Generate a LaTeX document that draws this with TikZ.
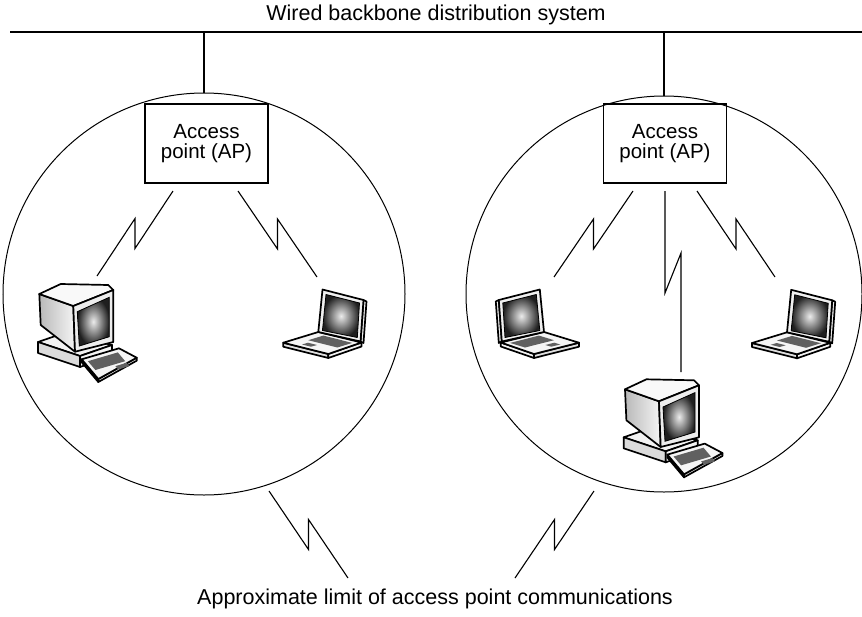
\documentclass[tikz,border=0pt]{standalone}
\usepackage{fontspec}
\setmainfont{Liberation Sans}
\usetikzlibrary{calc}
\begin{document}
\begin{tikzpicture}[x=1pt,y=-1pt,
  outline/.style={draw=black,line width=1.7pt,line join=round},
  apbox/.style={draw,line width=1.1pt,minimum width=123pt,minimum height=79pt,
    inner sep=0pt,align=center,font=\fontsize{20.5}{20}\selectfont},
  cell/.style={circle,draw,line width=1pt,inner sep=0pt},
  wire/.style={line width=1.1pt},
  backbone/.style={line width=2.4pt},
  radiolink/.style={line width=1.1pt,line join=miter,
    to path={-- ($(\tikztostart)!0.5!(\tikztotarget)+(0,15)$)
             -- ($(\tikztostart)!0.5!(\tikztotarget)+(0,-15)$)
             -- (\tikztotarget)}},
  caption/.style={font=\fontsize{21.5}{24}\selectfont,anchor=base,inner sep=0pt},
  desktop/.pic={
    % system unit
    \path[outline,fill=gray!10] (18,72) -- (44,63) -- (92,75) -- (60,86) -- cycle;
    \path[outline,fill=gray!28] (18,72) -- (60,86) -- (60,97) -- (18,83) -- cycle;
    \path[outline,fill=gray!8] (60,86) -- (92,75) -- (92,86) -- (60,97) -- cycle;
    \fill[gray!70] (64,91) -- (72,88.3) -- (72,90.3) -- (64,93) -- cycle;
    % monitor housing
    \path[outline,left color=gray!55,right color=gray!8]
      (19.3,24) -- (53.3,36) -- (55,81.7) -- (20.7,55) -- cycle;
    \path[outline,fill=gray!5]
      (19.3,24) -- (40.7,14) -- (88.3,15) -- (93.3,20) -- (53.3,36) -- cycle;
    \path[outline,fill=gray!14]
      (53.3,36) -- (93.3,20) -- (93.3,72) -- (55,81.7) -- cycle;
    \path[draw=black,line width=0.8pt,inner color=gray!15,outer color=black!88]
      (57.3,41.7) -- (89.3,27.3) -- (89.3,66.7) -- (59.3,76) -- cycle;
    % keyboard
    \path[outline,fill=gray!25] (61.7,89.3) -- (78.3,109) -- (78.3,112) -- (61.7,92.3) -- cycle;
    \path[outline,fill=gray!10] (78.3,109) -- (116.7,87.7) -- (116.7,90.7) -- (78.3,112) -- cycle;
    \path[outline,fill=gray!8] (61.7,89.3) -- (99,78.3) -- (116.7,87.7) -- (78.3,109) -- cycle;
    \fill[gray!75!black] (67.9,91.2) -- (97.8,82.4) -- (105.2,91.2) -- (75.4,100) -- cycle;
    \fill[gray!75!black] (95.4,96.1) -- (106.6,92.8) -- (109.4,96.1) -- (98.2,99.4) -- cycle;
  },
  laptop/.pic={
    % base
    \path[outline,fill=gray!25] (13.3,72.7) -- (58.3,84) -- (58.3,88) -- (13.3,76.7) -- cycle;
    \path[outline,fill=gray!10] (58.3,84) -- (91.5,72.5) -- (91.5,76.5) -- (58.3,88) -- cycle;
    \path[outline,fill=gray!8] (13.3,72.7) -- (48.3,62) -- (91.5,72.5) -- (58.3,84) -- cycle;
    \fill[gray!75!black] (38.3,70.2) -- (67.3,77.5) -- (82.3,72.9) -- (53.3,65.6) -- cycle;
    \fill[gray!75!black] (32,74.5) -- (41,76.7) -- (47,75) -- (38,72.7) -- cycle;
    % lid
    \path[outline,fill=gray!15] (93.5,30) -- (96.5,31.5) -- (93.5,73) -- (90.5,71.5) -- cycle;
    \path[outline,fill=gray!12] (48.3,62) -- (52.5,19.5) -- (93.5,30) -- (90.5,71.5) -- cycle;
    \path[draw=black,line width=0.8pt,inner color=gray!15,outer color=black!88]
      (56,24.5) -- (89.5,33) -- (87.3,67.5) -- (52.5,60.5) -- cycle;
  }
]
\useasboundingbox (0,0) rectangle (862,616);

% wired backbone
\coordinate (bbL) at (10,32);
\coordinate (bbR) at (862,32);
\draw[backbone] (bbL) -- (bbR);
\node[caption] (title) at (436,20.7) {Wired backbone distribution system};

% coverage cells
\node[cell,minimum size=402pt] (cellL) at (204,294) {};
\node[cell,minimum size=396pt] (cellR) at (664,294) {};

% access points
\node[apbox] (apL) at (206.5,143.5) {Access\\point (AP)};
\node[apbox] (apR) at (665,143.5) {Access\\point (AP)};

\draw[wire] (cellL.north |- bbL) -- (cellL.north);
\draw[wire] (cellR.north |- bbR) -- (cellR.north);

% stations
\pic (pcL) at (20,270) {desktop};
\pic (lapL) at (270,270) {laptop};
\pic[xscale=-1] (lapR1) at (592.3,270) {laptop};
\pic (lapR2) at (738.7,270.3) {laptop};
\pic (pcR) at (605.7,365.3) {desktop};

% radio links
\coordinate (l1a) at (173,191); \coordinate (l1b) at (97,276);
\coordinate (l2a) at (238,191); \coordinate (l2b) at (317,277);
\coordinate (r1a) at (633,191); \coordinate (r1b) at (554,277);
\coordinate (r3a) at (697,191); \coordinate (r3b) at (775,277);
\coordinate (r2a) at (665,191); \coordinate (r2b) at (681,372);
\draw[radiolink] (l1a) to (l1b);
\draw[radiolink] (l2a) to (l2b);
\draw[radiolink] (r1a) to (r1b);
\draw[radiolink] (r3a) to (r3b);
\draw[wire,line join=miter] (r2a) -- ++(0,102) -- ++(16,-40) -- (r2b);

% limit of communications
\coordinate (g1a) at (269,491); \coordinate (g1b) at (348,578);
\coordinate (g2a) at (594,491); \coordinate (g2b) at (515,578);
\draw[radiolink] (g1a) to (g1b);
\draw[radiolink] (g2a) to (g2b);
\node[caption] (limit) at (435,604) {Approximate limit of access point communications};
\end{tikzpicture}
\end{document}
